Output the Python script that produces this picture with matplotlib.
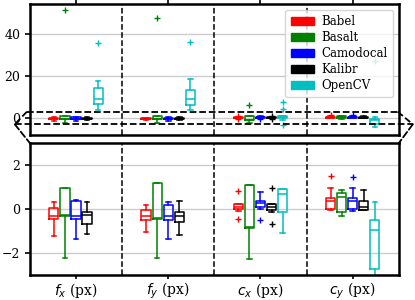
import numpy as np
import matplotlib.pyplot as plt
import matplotlib.patches as mpatches
from matplotlib.patches import ConnectionPatch
from matplotlib.transforms import blended_transform_factory

plt.rcParams['font.family'] = 'serif'
plt.rcParams['font.size'] = 9

params = ['$f_x$ (px)', '$f_y$ (px)', '$c_x$ (px)', '$c_y$ (px)']
methods = ['Babel', 'Basalt', 'Camodocal', 'Kalibr', 'OpenCV']
colors = ['r', 'g', 'b', 'k', 'c']

# box statistics, [method][parameter]
q1 = [[-0.45, -0.49, 0.01, 0.00],
      [-0.30, -0.43, -0.84, -0.11],
      [-0.43, -0.49, 0.09, 0.00],
      [-0.68, -0.58, -0.06, -0.06],
      [6.5, 6.3, -0.11, -2.71]]
med = [[-0.30, -0.30, 0.10, 0.35],
       [-0.28, -0.40, -0.82, 0.55],
       [-0.30, -0.30, 0.28, 0.35],
       [-0.25, -0.30, 0.09, 0.09],
       [8.9, 9.0, 0.70, -0.97]]
q3 = [[0.07, -0.03, 0.23, 0.50],
      [0.95, 1.18, 1.10, 0.73],
      [0.39, 0.20, 0.39, 0.50],
      [-0.15, -0.15, 0.23, 0.35],
      [14.1, 13.5, 0.91, -0.49]]
whislo = [[-1.21, -1.06, -0.08, -0.05],
          [-2.20, -2.20, -2.26, -0.30],
          [-1.36, -1.36, 0.02, -0.10],
          [-1.14, -1.18, -0.12, -0.06],
          [3.8, 4.0, -1.09, -4.3]]
whishi = [[0.32, 0.18, 0.25, 0.95],
          [0.95, 1.18, 1.10, 0.88],
          [0.43, 0.32, 0.77, 0.95],
          [0.32, 0.38, 0.25, 0.88],
          [17.5, 18.6, 0.91, 0.32]]
fliers = [[[], [], [0.83, -0.43], [1.51]],
          [[51.2], [47.7], [6.0], []],
          [[], [], [-0.49], [1.45]],
          [[], [], [0.94, -0.68], []],
          [[35.6], [36.3], [7.5, 4.5, -3.15], [27.2]]]

zoom_lim = 3

fig = plt.figure(figsize=(4.15, 3.0), dpi=100)
ax1 = fig.add_axes([0.072, 0.55, 0.889, 0.437])
ax2 = fig.add_axes([0.072, 0.083, 0.889, 0.44])

centers = np.arange(1, len(params) + 1)
offsets = np.arange(-2, 3) * 0.12

for ax in (ax1, ax2):
    for i, c in enumerate(colors):
        stats = []
        for j in range(len(params)):
            stats.append(dict(med=med[i][j], q1=q1[i][j], q3=q3[i][j],
                              whislo=whislo[i][j], whishi=whishi[i][j],
                              fliers=fliers[i][j]))
        lp = dict(color=c, lw=1.1)
        ax.bxp(stats, positions=centers + offsets[i], widths=0.1,
               boxprops=lp, whiskerprops=lp, capprops=lp, medianprops=lp,
               flierprops=dict(marker='+', markeredgecolor=c, markersize=5,
                               markeredgewidth=1.0),
               manage_ticks=False)
    for xd in centers[:-1] + 0.5:
        ax.axvline(xd, color='k', ls='--', lw=1.1)
    ax.grid(axis='y', color='#cccccc', lw=1)
    ax.set_axisbelow(True)
    ax.set_xlim(0.5, len(params) + 0.5)
    ax.set_xticks(centers)
    for s in ax.spines.values():
        s.set_linewidth(1.8)
    ax.tick_params(width=1.2)
    ax.tick_params(axis='x', length=3, pad=1)

ax1.set_ylim(-8.1, 54.3)
ax1.set_yticks([0, 20, 40])
ax1.xaxis.tick_top()
ax1.tick_params(axis='x', labeltop=False)

ax2.set_ylim(-zoom_lim, zoom_lim)
ax2.set_yticks([-2, 0, 2])
ax2.set_xticklabels(params, fontsize=10)

ax1.legend(handles=[mpatches.Patch(color=c, label=m) for c, m in zip(colors, methods)],
           loc='upper right', fontsize=8.5, labelspacing=0.25,
           handletextpad=0.6, borderpad=0.45)

# zoom indicator between the two panels
tr = blended_transform_factory(ax1.transAxes, ax1.transData)
kw = dict(ls='--', color='k', lw=1.3, clip_on=False)
ax1.plot([-0.008, 0.997], [zoom_lim, zoom_lim], transform=tr, **kw)
ax1.plot([-0.041, 1.038], [-zoom_lim, -zoom_lim], transform=tr, **kw)
ax1.plot([-0.008, -0.041], [zoom_lim, -zoom_lim], transform=tr, **kw)
ax1.plot([0.997, 1.038], [zoom_lim, -zoom_lim], transform=tr, **kw)
for xa, xb in [(-0.041, 0), (1.038, 1)]:
    con = ConnectionPatch(xyA=(xa, -zoom_lim), coordsA=tr, xyB=(xb, 1),
                          coordsB=ax2.transAxes, ls='--', color='k', lw=1.3)
    fig.add_artist(con)

fig.savefig('out.png', dpi=100)
